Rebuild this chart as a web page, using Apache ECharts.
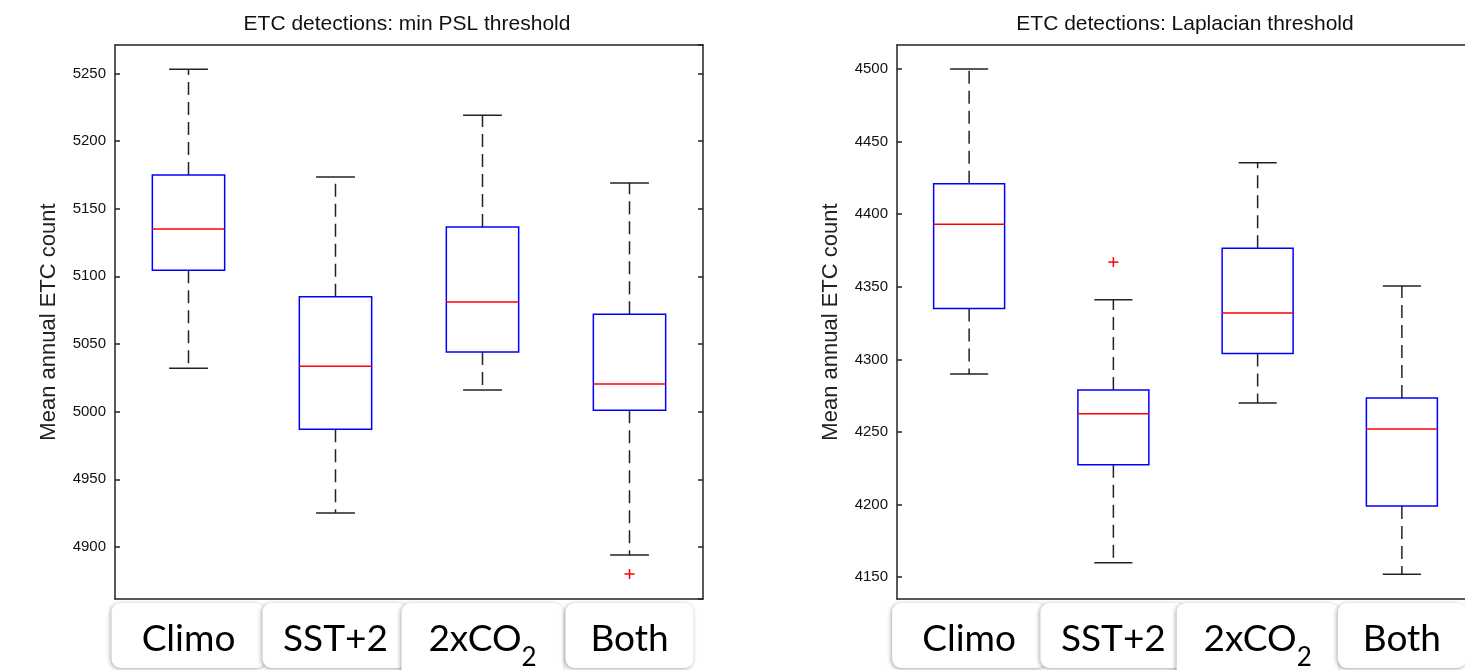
<!DOCTYPE html>
<html>
<head>
<meta charset="utf-8">
<script src="https://cdn.jsdelivr.net/npm/echarts@6.0.0/dist/echarts.min.js"></script>
<style>
  html, body { margin: 0; padding: 0; background: #fff; }
  #chart { width: 1465px; height: 670px; }
</style>
</head>
<body>
<div id="chart"></div>
<script>
const categories = ['Climo', 'SST+2', '2xCO₂', 'Both'];

// each row: [lower whisker, q1, median, q3, upper whisker]
const pslBoxes = [
  [5032, 5104.5, 5135, 5175, 5253],
  [4925, 4987, 5033.5, 5085, 5173.5],
  [5016, 5044, 5081, 5136.5, 5219],
  [4894, 5001, 5020.5, 5072, 5169]
];
const pslOutliers = [[3, 4880]];

const lapBoxes = [
  [4290, 4335, 4393, 4421, 4500],
  [4160, 4227.5, 4262.5, 4279, 4341],
  [4270, 4304, 4332, 4376.5, 4435.5],
  [4152, 4199, 4252, 4273.5, 4350.5]
];
const lapOutliers = [[1, 4367]];

const pslRange = [4861.5, 5271];
const lapRange = [4135, 4516.5];

// widths of the white label cards under each category
const labelWidths = [154, 146, 162, 128];

const frame = { color: '#222', width: 1.5 };

function labelFormatter(v) {
  if (v.indexOf('₂') >= 0) {
    return '{m|' + v.replace('₂', '') + '}{s|2}';
  }
  return '{m|' + v + '}';
}

const labelData = categories.map((c, i) => ({
  value: c,
  textStyle: { width: labelWidths[i] }
}));

function xAxes(grid) {
  return [
    {
      type: 'category', gridIndex: grid, position: 'bottom', data: labelData,
      axisLine: { lineStyle: frame },
      axisTick: { inside: true, alignWithLabel: true, length: 5, lineStyle: frame },
      axisLabel: {
        interval: 0, margin: 4,
        formatter: labelFormatter,
        backgroundColor: '#fff',
        borderRadius: 9,
        padding: [18, 0, 10, 0],
        shadowColor: 'rgba(0,0,0,0.35)',
        shadowBlur: 4,
        shadowOffsetX: -1,
        shadowOffsetY: 1,
        rich: {
          m: { fontFamily: 'Lato', fontSize: 37, color: '#000', lineHeight: 37, verticalAlign: 'top' },
          s: { fontFamily: 'Lato', fontSize: 26, color: '#000', lineHeight: 50, padding: [24, 0, 0, 0], verticalAlign: 'bottom' }
        }
      }
    },
    {
      type: 'category', gridIndex: grid, position: 'top', data: categories,
      axisLine: { lineStyle: frame },
      axisTick: { inside: true, alignWithLabel: true, length: 5, lineStyle: frame },
      axisLabel: { show: false }
    }
  ];
}

function yAxes(grid, range) {
  const base = {
    type: 'value', gridIndex: grid, min: range[0], max: range[1],
    splitNumber: 8, minInterval: 50, maxInterval: 50,
    splitLine: { show: false },
    axisLine: { show: true, lineStyle: frame },
    axisTick: { show: true, inside: true, length: 5, lineStyle: frame }
  };
  return [
    Object.assign({}, base, {
      position: 'left',
      name: 'Mean annual ETC count',
      nameLocation: 'middle',
      nameGap: 55,
      nameTextStyle: { fontFamily: 'Liberation Sans', fontSize: 22, color: '#222' },
      axisLabel: {
        margin: 9, fontFamily: 'Liberation Sans', fontSize: 15, color: '#111',
        showMinLabel: false, showMaxLabel: false,
        formatter: v => String(v)
      }
    }),
    Object.assign({}, base, { position: 'right', axisLabel: { show: false } })
  ];
}

function renderBox(params, api) {
  const i = api.value(0);
  const band = api.size([1, 0])[0];
  const half = band * 0.246;
  const cap = band * 0.132;
  const lo = api.coord([i, api.value(1)]);
  const q1 = api.coord([i, api.value(2)]);
  const med = api.coord([i, api.value(3)]);
  const q3 = api.coord([i, api.value(4)]);
  const hi = api.coord([i, api.value(5)]);
  const x = lo[0];
  const dashed = { stroke: '#222', lineWidth: 1.5, lineDash: [13, 7] };
  const solid = { stroke: '#222', lineWidth: 1.5 };
  return {
    type: 'group',
    children: [
      { type: 'line', shape: { x1: x, y1: q3[1], x2: x, y2: hi[1] }, style: dashed },
      { type: 'line', shape: { x1: x, y1: q1[1], x2: x, y2: lo[1] }, style: dashed },
      { type: 'line', shape: { x1: x - cap, y1: hi[1], x2: x + cap, y2: hi[1] }, style: solid },
      { type: 'line', shape: { x1: x - cap, y1: lo[1], x2: x + cap, y2: lo[1] }, style: solid },
      {
        type: 'rect',
        shape: { x: x - half, y: q3[1], width: half * 2, height: q1[1] - q3[1] },
        style: { fill: '#fff', stroke: '#0000ff', lineWidth: 1.5 }
      },
      { type: 'line', shape: { x1: x - half, y1: med[1], x2: x + half, y2: med[1] }, style: { stroke: '#ff0000', lineWidth: 1.5 } }
    ]
  };
}

function renderOutlier(params, api) {
  const c = api.coord([api.value(0), api.value(1)]);
  const r = 5;
  const st = { stroke: '#ff0000', lineWidth: 1.5 };
  return {
    type: 'group',
    children: [
      { type: 'line', shape: { x1: c[0] - r, y1: c[1], x2: c[0] + r, y2: c[1] }, style: st },
      { type: 'line', shape: { x1: c[0], y1: c[1] - r, x2: c[0], y2: c[1] + r }, style: st }
    ]
  };
}

const titleStyle = { fontFamily: 'Liberation Sans', fontSize: 21, fontWeight: 'normal', color: '#111' };

const option = {
  animation: false,
  backgroundColor: '#fff',
  title: [
    { text: 'ETC detections: min PSL threshold', left: 402, top: 9, textAlign: 'center', textStyle: titleStyle },
    { text: 'ETC detections: Laplacian threshold', left: 1180, top: 9, textAlign: 'center', textStyle: titleStyle }
  ],
  grid: [
    { left: 115, top: 45, width: 588, height: 554, containLabel: false, outerBoundsMode: 'none' },
    { left: 897, top: 45, width: 577, height: 554, containLabel: false, outerBoundsMode: 'none' }
  ],
  xAxis: xAxes(0).concat(xAxes(1)),
  yAxis: yAxes(0, pslRange).concat(yAxes(1, lapRange)),
  series: [
    {
      type: 'custom', xAxisIndex: 0, yAxisIndex: 0, renderItem: renderBox,
      encode: { x: 0, y: [1, 2, 3, 4, 5] },
      data: pslBoxes.map((b, i) => [i].concat(b))
    },
    {
      type: 'custom', xAxisIndex: 0, yAxisIndex: 0, renderItem: renderOutlier,
      encode: { x: 0, y: 1 }, data: pslOutliers
    },
    {
      type: 'custom', xAxisIndex: 2, yAxisIndex: 2, renderItem: renderBox,
      encode: { x: 0, y: [1, 2, 3, 4, 5] },
      data: lapBoxes.map((b, i) => [i].concat(b))
    },
    {
      type: 'custom', xAxisIndex: 2, yAxisIndex: 2, renderItem: renderOutlier,
      encode: { x: 0, y: 1 }, data: lapOutliers
    }
  ]
};

const chart = echarts.init(document.getElementById('chart'));
chart.setOption(option);
</script>
</body>
</html>
